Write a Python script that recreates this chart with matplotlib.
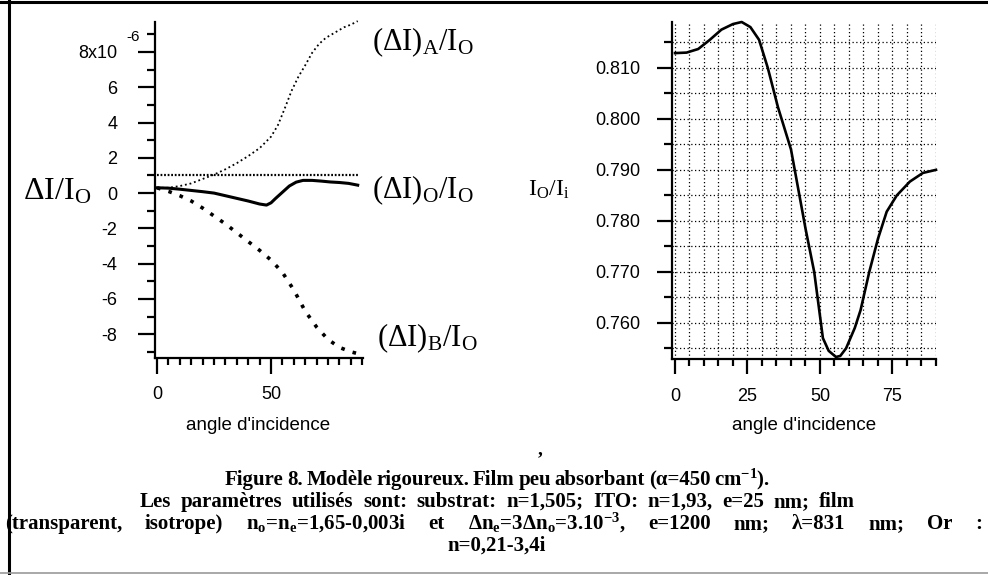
import matplotlib
matplotlib.use("Agg")
import matplotlib.pyplot as plt
from matplotlib.ticker import MultipleLocator
from matplotlib.lines import Line2D

plt.rcParams["axes.unicode_minus"] = False
plt.rcParams["mathtext.fontset"] = "custom"
plt.rcParams["mathtext.rm"] = "Liberation Serif"
plt.rcParams["mathtext.it"] = "Liberation Serif:italic"
plt.rcParams["mathtext.bf"] = "Liberation Serif:bold"

# ---------------- data ----------------
angle_A = [0, 5, 10, 15, 20, 25, 30, 35, 40, 45, 50, 53, 56, 59, 62, 65, 68, 71, 74, 78, 82, 85, 88]
dI_A = [0.3, 0.3, 0.4, 0.55, 0.8, 1.05, 1.35, 1.7, 2.1, 2.55, 3.2, 3.85, 4.8, 5.8, 6.6, 7.25,
        7.95, 8.45, 8.8, 9.1, 9.4, 9.55, 9.75]

angle_O = [0, 5, 10, 15, 20, 25, 30, 35, 40, 45, 48, 50, 52, 55, 58, 61, 64, 68, 72, 76, 80, 84, 88]
dI_O = [0.3, 0.28, 0.22, 0.15, 0.08, 0.0, -0.15, -0.3, -0.45, -0.62, -0.68, -0.55, -0.3,
        0.05, 0.4, 0.62, 0.72, 0.72, 0.68, 0.63, 0.6, 0.55, 0.45]

angle_B = [0, 5, 10, 15, 20, 25, 30, 35, 40, 45, 50, 55, 60, 65, 70, 75, 80, 85, 88]
dI_B = [0.3, 0.1, -0.15, -0.45, -0.85, -1.3, -1.75, -2.25, -2.75, -3.25, -3.8, -4.5, -5.5,
        -6.7, -7.6, -8.3, -8.75, -9.0, -9.1]

ref_angle = [0, 88]
ref_level = [1.0, 1.0]

angle_R = [0, 4, 8, 12, 16, 20, 23, 26, 29, 32, 35.5, 40, 45, 48, 51, 53, 55.5, 57, 59, 62,
           64, 67, 70, 73, 76.5, 81, 85.5, 90]
ratio_R = [0.8129, 0.8130, 0.8137, 0.8155, 0.8175, 0.8186, 0.8190, 0.8180, 0.8155, 0.8100,
           0.8023, 0.7940, 0.7785, 0.7700, 0.7570, 0.7545, 0.7533, 0.7535, 0.7550, 0.7590,
           0.7625, 0.7700, 0.7765, 0.7818, 0.7850, 0.7877, 0.7894, 0.7900]

left_yticks = [-8, -6, -4, -2, 0, 2, 4, 6, 8]
left_yticklabels = ["-8", "-6", "-4", "-2", "0", "2", "4", "6", "8x10"]
left_xticks = [0, 50]
right_yticks = [0.760, 0.770, 0.780, 0.790, 0.800, 0.810]
right_yticklabels = ["0.760", "0.770", "0.780", "0.790", "0.800", "0.810"]
right_xticks = [0, 25, 50, 75]

caption_lines = [
    r"Figure 8. Modèle rigoureux. Film peu absorbant (α=450 cm$^{\mathbf{-1}}$).",
    r"Les paramètres utilisés sont: substrat: n=1,505; ITO: n=1,93, e=25 nm; film",
    r"(transparent, isotrope) n$_{\mathbf{o}}$=n$_{\mathbf{e}}$=1,65-0,003i et Δn$_{\mathbf{e}}$=3Δn$_{\mathbf{o}}$=3.10$^{\mathbf{-3}}$, e=1200 nm; λ=831 nm; Or :",
    r"n=0,21-3,4i",
]

# ---------------- figure ----------------
W, H = 988, 575
fig = plt.figure(figsize=(W / 100, H / 100), dpi=100)
fig.patch.set_facecolor("white")


def rect(x0, y0, x1, y1):
    return [x0 / W, 1 - y1 / H, (x1 - x0) / W, (y1 - y0) / H]


def ftext(x, y, s, **kw):
    return fig.text(x / W, 1 - y / H, s, **kw)


sans = "Liberation Sans"
serif = "Liberation Serif"

# ---- left panel ----
axL = fig.add_axes(rect(155, 22, 362.5, 358))
axL.set_xlim(-0.9, 90.1)
axL.set_ylim(-9.35, 9.7)
for s in ["top", "right"]:
    axL.spines[s].set_visible(False)
for s in ["left", "bottom"]:
    axL.spines[s].set_linewidth(1.6)

axL.plot(angle_A, dI_A, color="black", lw=1.3, linestyle=(0, (1, 1.6)), clip_on=False)
axL.plot(ref_angle, ref_level, color="black", lw=1.6, linestyle=(0, (0.8, 0.8)), clip_on=False)
axL.plot(angle_O, dI_O, color="black", lw=2.2, clip_on=False)
axL.plot(angle_B, dI_B, color="black", lw=2.6, linestyle=(0, (1, 2.3)), clip_on=False)

axL.set_yticks(left_yticks, left_yticklabels)
axL.yaxis.set_minor_locator(MultipleLocator(1))
axL.set_xticks(left_xticks)
axL.xaxis.set_minor_locator(MultipleLocator(5))
axL.tick_params(axis="y", which="major", length=12, width=1.6, pad=15, labelsize=13)
axL.tick_params(axis="y", which="minor", length=6, width=1.6)
axL.tick_params(axis="x", which="major", length=11.5, width=1.6, pad=9, labelsize=13)
axL.tick_params(axis="x", which="minor", length=5, width=1.6)
for lab in axL.get_xticklabels() + axL.get_yticklabels():
    lab.set_fontfamily(sans)

ftext(133, 37, "-6", fontsize=11, family=sans, ha="center", va="center")
ftext(258.5, 426, "angle d'incidence", fontsize=13.5, family=sans, ha="center", va="center")
ftext(57, 192, r"ΔI/I$_{\mathrm{O}}$", fontsize=23, family=serif, ha="center", va="center")

ftext(372, 42, r"(ΔI)$_{\mathrm{A}}$/I$_{\mathrm{O}}$", fontsize=22, family=serif, ha="left", va="center")
ftext(372, 190, r"(ΔI)$_{\mathrm{O}}$/I$_{\mathrm{O}}$", fontsize=22, family=serif, ha="left", va="center")
ftext(377, 338, r"(ΔI)$_{\mathrm{B}}$/I$_{\mathrm{O}}$", fontsize=22, family=serif, ha="left", va="center")

# ---- right panel ----
axR = fig.add_axes(rect(672, 22, 936, 359))
axR.set_xlim(-1.03, 90)
axR.set_ylim(0.7529, 0.8190)
for s in ["top", "right"]:
    axR.spines[s].set_visible(False)
for s in ["left", "bottom"]:
    axR.spines[s].set_linewidth(1.6)

axR.set_yticks(right_yticks, right_yticklabels)
axR.yaxis.set_minor_locator(MultipleLocator(0.005))
axR.set_xticks(right_xticks)
axR.xaxis.set_minor_locator(MultipleLocator(5))
axR.grid(True, which="both", color="black", lw=0.9, linestyle=(0, (1, 2)))
axR.set_axisbelow(True)
axR.tick_params(axis="y", which="major", length=11, width=1.6, pad=12, labelsize=13)
axR.tick_params(axis="y", which="minor", length=6, width=1.6)
axR.tick_params(axis="x", which="major", length=11, width=1.6, pad=10, labelsize=13)
axR.tick_params(axis="x", which="minor", length=5, width=1.6)
for lab in axR.get_xticklabels() + axR.get_yticklabels():
    lab.set_fontfamily(sans)

axR.plot(angle_R, ratio_R, color="black", lw=1.9, clip_on=False, zorder=3)

ftext(804, 426, "angle d'incidence", fontsize=13.5, family=sans, ha="center", va="center")
ftext(549, 190, r"I$_{\mathrm{O}}$/I$_{\mathrm{i}}$", fontsize=17, family=serif, ha="center", va="center")

# ---- caption (word-spaced like the scanned, justified paragraph) ----
renderer = fig.canvas.get_renderer()
cap_size = 15


def spread_line(line, x0, x1, ybase):
    words = line.split(" ")
    objs = [ftext(0, ybase, w, fontsize=cap_size, family=serif, fontweight="bold",
                  ha="left", va="baseline") for w in words]
    widths = [o.get_window_extent(renderer).width for o in objs]
    gap = (x1 - x0 - sum(widths)) / max(len(words) - 1, 1)
    x = x0
    for o, w in zip(objs, widths):
        o.set_x(x / W)
        x += w + gap


spread_line(caption_lines[0], 225, 770, 485)
spread_line(caption_lines[1], 140, 855, 507)
spread_line(caption_lines[2], 5, 982, 529)
ftext(497, 551, caption_lines[3], fontsize=cap_size, family=serif, fontweight="bold",
      ha="center", va="baseline")
ftext(540, 450, ",", fontsize=14, family=serif, fontweight="bold", ha="center", va="center")

# ---- scan frame ----
fig.add_artist(Line2D([9 / W, 9 / W], [0, 1], color="black", lw=2.2, transform=fig.transFigure))
fig.add_artist(Line2D([0, 1], [1 - 2 / H, 1 - 2 / H], color="black", lw=2.2, transform=fig.transFigure))
fig.add_artist(Line2D([0, 1], [1 - 573 / H, 1 - 573 / H], color="#999999", lw=1.2, transform=fig.transFigure))

fig.savefig("out.png", dpi=100, facecolor="white")
